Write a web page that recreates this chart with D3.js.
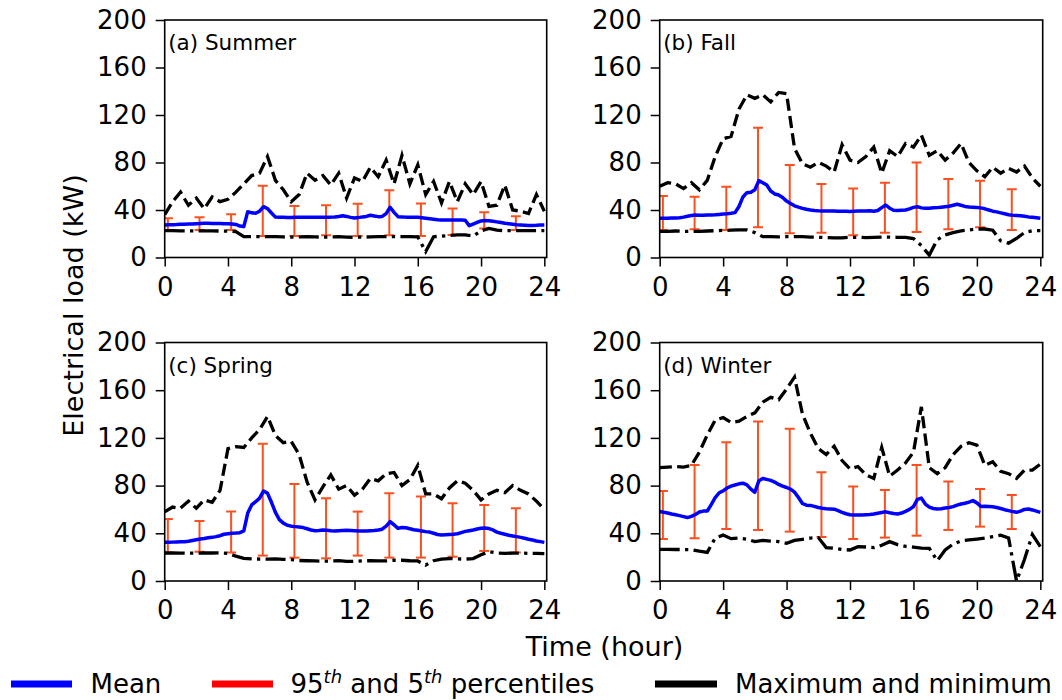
<!DOCTYPE html>
<html><head><meta charset="utf-8">
<script src="https://cdn.jsdelivr.net/npm/d3@7"></script>
<style>
body{margin:0;background:#fff}
svg{display:block}
text{font-family:"DejaVu Sans",sans-serif;fill:#000}
</style>
</head><body>
<svg id="chart" width="1062" height="700"></svg>
<script>
// ---------- data ----------
const panelLabels = ["(a) Summer", "(b) Fall", "(c) Spring", "(d) Winter"];
const xTicks = [0, 4, 8, 12, 16, 20, 24];
const yTicks = [0, 40, 80, 120, 160, 200];
const hoursMean = d3.range(0, 24.001, 0.25);   // 15-min grid for mean
const hoursExt = d3.range(0, 24.001, 0.5);     // 30-min grid for max / min
const errHours = [0.2, 2.2, 4.2, 6.2, 8.2, 10.2, 12.2, 14.2, 16.2, 18.2, 20.2, 22.2];

const summerMean = [27.4,27.5,27.6,27.7, 27.9,28,28.2,28.3, 28.5,28.7,28.8,28.8, 28.7,28.7,28.6,28.5,
  28.4,28.2,27.8,26.5, 26,38.6,37.6,37.2, 39,42.8,41.2,37.5, 34,33.8,33.8,33.6, 33.6,33.8,33.8,33.9,
  34,34,34,34, 34,34,34,34.2, 34.6,35.2,34.6,33.8, 33.2,33.6,34.2,34.6, 35.6,35,34.4,34.6,
  37,42.3,38,34.4, 34.2,34,34,33.8, 33.8,33.4,33,32.6, 32.2,31.8,31.6,31.6, 31.6,31.6,31.6,31.6,
  31.4,26.8,28.2,29.5, 30.8,31.2,31,30.6, 30,29.4,28.8,28.4, 28,27.6,27.4,27.2, 27,27,27.1,27.3, 27.3];
const summerMax = [36,47,55,44,50,41,51,47,49,55, 62,69,71,85,65,57,47,53,71,65, 69,61,71,50,67,64,76,68,82,62,
  86,62,78,53,64,46,64,47,62,53, 64,43,44,61,40,39,37,53,39];
const summerMin = [22.6,22.6,22.5,22.4,22.5,22.5,22.4,22.3,22.2,21.8, 17.5,17.5,17.5,17.5,17.5,17.3,17.2,17.4,17.5,17.3,
  17.2,17.3,17.5,17.2,17,17.2,17.3,17.5,17.5,17.6, 17.5,17.5,17.3,5,17.5,18,18.5,19,19,18,
  22.5,24.5,23,22.6,22.6,22.6,22.6,22.6,22.6];
const summerP95 = [33,33.8,36.4,60.5,43.4,44,45.2,56.6,45.4,41.2,38.1,34.8];
const summerP5 = [23.2,23.2,23.2,18.1,18.1,18.7,18.1,18.7,18.1,19,24.4,23.2];

const fallMean = [33,33,33,33.2, 33.3,33.5,34,34.8, 35.4,35.8,35.6,35.6, 35.8,35.8,36,36.3,
  36.6,36.8,37.2,37.8, 43,51,54.6,55, 57,64.7,63,61, 56,53.5,52.6,50.5, 47.5,45.5,43.5,42.4,
  41.4,40.6,40,39.5, 39.3,39.2,39.2,39.2, 39.1,39,39,39, 38.8,39,39.2,39.2, 39.2,39.3,39,39.6,
  42,44.2,41.5,39.8, 39.6,39.8,40,41, 42.2,42.8,41.8,41.4, 41.5,41.8,42,42.4, 42.8,43.2,44,44.8,
  44,43,42.6,42.4, 42.2,41.8,41,40, 39,38.4,37.6,36.8, 36,35.6,35.4,35.2, 34.8,34.2,33.8,33.4, 33];
const fallMax = [60,63,62,58,63,57,65,85,100,102, 125,137,134,137,131,139,138,92,79,76, 80,77,72,95,82,80,85,93,71,90,
  85,96,93,103,86,90,82,88,96,80, 73,68,76,71,75,72,77,67,60];
const fallMin = [22,22,22.3,22,22,22,22.3,22.6,22.8,23, 23.2,23.2,21,17.5,17.5,17.3,17.5,17.5,17.5,17.2,
  17,16.8,16.6,16.6,17,17,16.8,17,17.2,17.2, 17,17,16,10,2,15,19,21,22.5,23.2,
  24,24,23,14,12,16,21,22.6,22.6];
const fallP95 = [51.8,51.2,59.6,109.3,77.9,61.9,58.2,63,80.1,66.1,64.7,57.4];
const fallP5 = [23.2,23.7,23.2,25.4,20.4,20.9,18.7,20.9,21.5,23.7,25.4,23.2];

const springMean = [32.4,32.5,32.6,32.8, 33,33,33.4,34, 34.6,35.2,35.6,36.2, 36.6,37.2,38,39.2,
  39.6,40,40.2,40.5, 42,57,63.8,66.5, 69.5,75.5,73.5,66, 57.5,51.5,48.5,46.8, 46,45.6,45.2,44.8,
  43.8,42.8,42.2,42.4, 42.8,42.6,42.2,42, 42.2,42.4,42.5,42.4, 42.2,42,42,42, 42.2,42.4,42.8,43.4,
  46,49.8,47,44.2, 44.8,44.6,43.8,43, 42.6,42,41.4,41, 40,39,38.6,38.8, 39,39.2,39.6,40.6,
  41.6,42.2,42.8,43.6, 44.2,44.4,44,42.8, 41,40,39.2,38.4, 37.8,37.2,36.6,35.8, 35,34.4,33.6,33, 32.4];
const springMax = [58,62,61,67,61,68,66,76,111,112.7, 112,120,127,138,122,116,117,106,83,68,
  79,89,77,80,72,77,86,84,90,91, 80,85,97,73,73,69,78,84,82,76, 68,73,76,74,80,76,73,67,60];
const springMin = [23.5,23.5,23.4,23.3,23.4,23.5,23.5,23.6,23.2,20.8, 19,18.5,18.4,18.4,18.5,18.2,18,17.2,17,16.8,
  16.6,16.8,17,16.4,16.5,17,17,16.8,16.8,17.4, 17.4,17,16.8,13.4,17,18.4,18.8,18.5,18.4,18.8,
  22,24.6,23.4,23.2,23.4,23.4,23.2,23.2,23];
const springP95 = [52,50.3,58.2,115,81.4,69.4,58.2,73.6,70.8,65.2,63.8,61];
const springP5 = [24,24.6,24,21.3,19.6,19,21.3,19.6,19.6,20.4,25.2,24];

const winterMean = [58.2,57.6,57,56.2, 55.5,54.8,54,53.2, 54.2,55.8,57.8,58.6, 58.7,64,70,74,
  75.5,78,79.5,80.5, 81.5,82,80.6,77, 74.4,84,86,85.2, 84.4,83,81,79.5, 78.4,77,74.5,70,
  65,63.6,63.4,62.6, 61.6,61,60.6,60.4, 60.2,59,57.6,56.4, 55.6,55.4,55.4,55.4, 55.6,55.8,56.2,56.8,
  57.4,58,57.2,56.6, 56.2,57,58.4,60, 62.4,68.5,69.5,64.5, 62,60.8,60.4,60.6, 61.2,61.6,62.4,63.6,
  64.6,65.2,66.2,67.4, 65.5,62.4,62.6,62.5, 62.2,61.6,60.8,59.8, 59,58.2,57.6,58.6, 60,60.4,59.6,58.6, 57.6];
const winterMax = [95,95.5,96,95.5,97,108,122.5,135,137,133, 134,138,141,150,154,152,161,171,140,124,
  111,106,113,101,94,96,89,86,112,88, 93,99,108,146,95,90,95,106,113,116, 114,97,100,92,90,86,93,93,98];
const winterMin = [26.6,26.6,26.4,26.4,26.2,25,24,36,38.5,35.5, 36,35,33,34,33.5,33,31.6,34,35,36,
  36.4,28,27.5,26.5,26,28.8,28.5,28,30,33, 30.5,29,28.4,27.6,27.4,17,26,31,33.6,34.4,
  35.2,36,37.2,38.5,36,0,18,39,28.8];
const winterP95 = [75.5,97.3,116.4,133.7,127.6,91.2,79.2,76.4,97.3,83.4,77.2,72.2];
const winterP5 = [35.2,35.8,43.6,42.8,41.4,36.9,35.2,36.4,38,42.8,45.6,43.6];

const legendLabels = ["Mean", "95th and 5th percentiles", "Maximum and minimum"];

// ---------- layout / style ----------
const seasons = [
  {label: panelLabels[0], mean: summerMean, max: summerMax, min: summerMin, p95: summerP95, p5: summerP5},
  {label: panelLabels[1], mean: fallMean, max: fallMax, min: fallMin, p95: fallP95, p5: fallP5},
  {label: panelLabels[2], mean: springMean, max: springMax, min: springMin, p95: springP95, p5: springP5},
  {label: panelLabels[3], mean: winterMean, max: winterMax, min: winterMin, p95: winterP95, p5: winterP5}
];
const boxes = [
  {x0: 164.7, x1: 546.7, yt: 20, yb: 257.5},
  {x0: 659.7, x1: 1042.7, yt: 20, yb: 257.5},
  {x0: 164.7, x1: 546.7, yt: 342.5, yb: 581},
  {x0: 659.7, x1: 1042.7, yt: 342.5, yb: 581}
];
const C_MEAN = "#0000ff", C_ERR = "#fa5020", C_EXT = "#000000", C_LEG_ERR = "#ff0000";

const svg = d3.select("#chart");
const defs = svg.append("defs");

seasons.forEach((s, i) => {
  const b = boxes[i];
  const x = d3.scaleLinear().domain([0, 24.15]).range([b.x0, b.x1]);
  const y = d3.scaleLinear().domain([0, 200]).range([b.yb, b.yt]);
  const g = svg.append("g");

  defs.append("clipPath").attr("id", "clip" + i)
    .append("rect").attr("x", b.x0).attr("y", b.yt).attr("width", b.x1 - b.x0).attr("height", b.yb - b.yt);
  const plot = g.append("g").attr("clip-path", `url(#clip${i})`);

  // error bars
  const eb = plot.append("g").attr("stroke", C_ERR).attr("stroke-width", 2).attr("fill", "none");
  errHours.forEach((h, k) => {
    const cx = x(h), top = y(s.p95[k]), bot = y(s.p5[k]);
    eb.append("line").attr("x1", cx).attr("x2", cx).attr("y1", top).attr("y2", bot);
    eb.append("line").attr("x1", cx - 5).attr("x2", cx + 5).attr("y1", top).attr("y2", top);
    eb.append("line").attr("x1", cx - 5).attr("x2", cx + 5).attr("y1", bot).attr("y2", bot);
  });

  const lineExt = d3.line().x((d, k) => x(hoursExt[k])).y(d => y(d));
  const lineMean = d3.line().x((d, k) => x(hoursMean[k])).y(d => y(d));

  plot.append("path").datum(s.max).attr("d", lineExt).attr("fill", "none")
    .attr("stroke", C_EXT).attr("stroke-width", 3.3).attr("stroke-dasharray", "12.2,5.3");
  plot.append("path").datum(s.min).attr("d", lineExt).attr("fill", "none")
    .attr("stroke", C_EXT).attr("stroke-width", 3.3).attr("stroke-dasharray", "20,5.3,3.3,5.3");
  plot.append("path").datum(s.mean).attr("d", lineMean).attr("fill", "none")
    .attr("stroke", C_MEAN).attr("stroke-width", 3.5).attr("stroke-linejoin", "round");

  // axes
  const xa = g.append("g").attr("transform", `translate(0,${b.yb})`)
    .call(d3.axisBottom(x).tickValues(xTicks).tickSize(9).tickPadding(11).tickFormat(d3.format("d")));
  const ya = g.append("g").attr("transform", `translate(${b.x0},0)`)
    .call(d3.axisLeft(y).tickValues(yTicks).tickSize(9).tickPadding(9).tickFormat(d3.format("d")));
  [xa, ya].forEach(a => {
    a.select(".domain").remove();
    a.selectAll(".tick line").attr("stroke", "#000").attr("stroke-width", 1.5);
    a.selectAll(".tick text").style("font-size", "26px").style("font-family", "DejaVu Sans");
  });

  g.append("rect").attr("x", b.x0).attr("y", b.yt).attr("width", b.x1 - b.x0).attr("height", b.yb - b.yt)
    .attr("fill", "none").attr("stroke", "#000").attr("stroke-width", 1.6);

  g.append("text").attr("x", b.x0 + 3.5).attr("y", b.yt + 30).style("font-size", "21.5px").text(s.label);
});

// axis titles
svg.append("text").attr("transform", "translate(83,305.5) rotate(-90)").attr("text-anchor", "middle")
  .style("font-size", "27px").text("Electrical load (kW)");
svg.append("text").attr("x", 604.5).attr("y", 656).attr("text-anchor", "middle")
  .style("font-size", "27px").text("Time (hour)");

// legend
const legItems = [
  {x1: 11, x2: 72, tx: 90.5, color: C_MEAN},
  {x1: 212, x2: 273, tx: 290.5, color: C_LEG_ERR},
  {x1: 655, x2: 717, tx: 735, color: C_EXT}
];
legItems.forEach((it, k) => {
  svg.append("line").attr("x1", it.x1).attr("x2", it.x2).attr("y1", 684).attr("y2", 684)
    .attr("stroke", it.color).attr("stroke-width", 7);
  const t = svg.append("text").attr("x", it.tx).attr("y", 692.5).style("font-size", "26px");
  if (k === 1) {
    t.append("tspan").text("95");
    t.append("tspan").attr("dy", -10).style("font-size", "18px").style("font-style", "italic").text("th");
    t.append("tspan").attr("dy", 10).text(" and 5");
    t.append("tspan").attr("dy", -10).style("font-size", "18px").style("font-style", "italic").text("th");
    t.append("tspan").attr("dy", 10).text(" percentiles");
  } else {
    t.text(legendLabels[k]);
  }
});
</script>
</body></html>
